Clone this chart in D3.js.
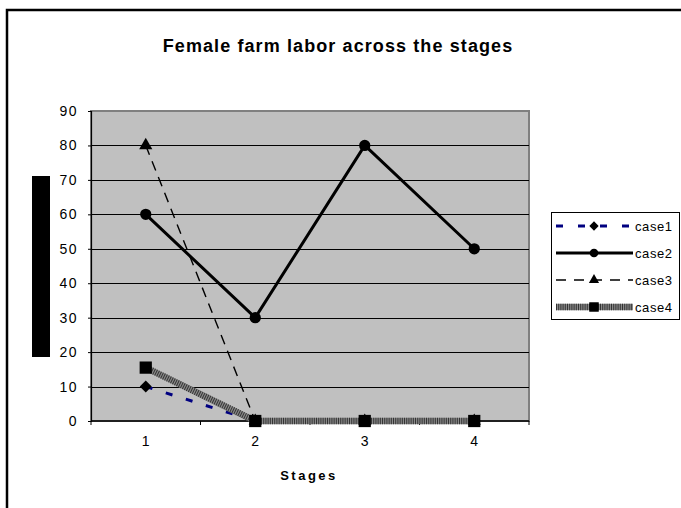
<!DOCTYPE html>
<html>
<head>
<meta charset="utf-8">
<script src="https://cdn.jsdelivr.net/npm/d3@7"></script>
<style>
  body { margin: 0; background: #fff; }
  svg { display: block; font-family: Arial, "Liberation Sans", sans-serif; }
</style>
</head>
<body>
<svg id="chart" width="681" height="508"></svg>
<script>
// data
var stages = [1, 2, 3, 4];
var case1 = [10, 0, 0, 0];
var case2 = [60, 30, 80, 50];
var case3 = [80, 0, 0, 0];
var case4 = [15.5, 0, 0, 0];
var yTicks = [0, 10, 20, 30, 40, 50, 60, 70, 80, 90];
var seriesNames = ['case1', 'case2', 'case3', 'case4'];
var seriesValues = [case1, case2, case3, case4];

// init
var svg = d3.select('#chart');
var plot = {left: 91, right: 529, top: 111, bottom: 421};

// chart border
svg.append('rect')
    .attr('x', 7).attr('y', 10)
    .attr('width', 690).attr('height', 510)
    .attr('fill', '#fff')
    .attr('stroke', '#000')
    .attr('stroke-width', 2.5);

// title
svg.append('text')
    .attr('x', 338).attr('y', 52)
    .attr('text-anchor', 'middle')
    .style('font-size', '18px')
    .style('font-weight', 'bold')
    .style('letter-spacing', '1.1px')
    .text('Female farm labor across the stages');

// scales
var x = d3.scalePoint().domain(stages).range([plot.left, plot.right]).padding(0.5);
var y = d3.scaleLinear().domain([0, 90]).range([plot.bottom, plot.top]);

// plot area
svg.append('rect')
    .attr('x', plot.left).attr('y', plot.top)
    .attr('width', plot.right - plot.left).attr('height', plot.bottom - plot.top)
    .attr('fill', '#c0c0c0')
    .attr('stroke', '#808080')
    .attr('stroke-width', 2);

// gridlines
svg.append('g')
    .selectAll('line')
    .data(yTicks.filter(d => d > 0 && d < 90)).enter()
    .append('line')
        .attr('x1', plot.left).attr('x2', plot.right)
        .attr('y1', d => Math.round(y(d)) + 0.5).attr('y2', d => Math.round(y(d)) + 0.5)
        .attr('stroke', '#000')
        .attr('stroke-width', 1);

// y axis
var yAxis = svg.append('g')
    .attr('transform', 'translate(' + plot.left + ',0)')
    .call(d3.axisLeft(y).tickValues(yTicks).tickSize(3).tickPadding(10));
yAxis.select('.domain').attr('stroke', '#000').attr('stroke-width', 1.2);
yAxis.selectAll('text')
    .style('font-size', '14px')
    .style('letter-spacing', '1.5px')
    .style('font-family', 'Arial, "Liberation Sans", sans-serif');

// x axis, ticks between categories
var step = x.step();
var xBounds = d3.range(stages.length + 1).map(i => plot.left + i * step);
var xAxis = svg.append('g');
xAxis.append('line')
    .attr('x1', plot.left).attr('x2', plot.right)
    .attr('y1', plot.bottom).attr('y2', plot.bottom)
    .attr('stroke', '#000').attr('stroke-width', 1.5);
xAxis.selectAll('line.tick')
    .data(xBounds).enter()
    .append('line')
        .attr('class', 'tick')
        .attr('x1', d => d).attr('x2', d => d)
        .attr('y1', plot.bottom).attr('y2', plot.bottom + 4)
        .attr('stroke', '#000');
xAxis.selectAll('text')
    .data(stages).enter()
    .append('text')
        .attr('x', d => x(d))
        .attr('y', 446)
        .attr('text-anchor', 'middle')
        .style('font-size', '14px')
        .text(d => d);

// x axis title
svg.append('text')
    .attr('x', 309).attr('y', 480)
    .attr('text-anchor', 'middle')
    .style('font-size', '13px')
    .style('font-weight', 'bold')
    .style('letter-spacing', '2.5px')
    .text('Stages');

// y axis title (blacked out box)
svg.append('rect')
    .attr('x', 32).attr('y', 176)
    .attr('width', 18).attr('height', 181)
    .attr('fill', '#000');

// series styles
var styles = {
    case1: {stroke: '#000080', width: 3, dash: '7,14', marker: d3.symbolSquare, rotate: 45, size: 72},
    case2: {stroke: '#000', width: 3, dash: null, marker: d3.symbolCircle, size: 100},
    case3: {stroke: '#000', width: 1.4, dash: '10,7', marker: d3.symbolTriangle, size: 75},
    case4: {stroke: '#8a8a8a', width: 6.5, dash: null, marker: d3.symbolSquare, size: 150, stripe: true}
};

var line = d3.line()
    .x((d, i) => x(stages[i]))
    .y(d => y(d));

var seriesG = svg.append('g');
seriesNames.forEach((name, k) => {
    var st = styles[name];
    var vals = seriesValues[k];
    seriesG.append('path')
        .attr('d', line(vals))
        .attr('fill', 'none')
        .attr('stroke', st.stroke)
        .attr('stroke-width', st.width)
        .attr('stroke-dasharray', st.dash);
    if (st.stripe) {
        seriesG.append('path')
            .attr('d', line(vals))
            .attr('fill', 'none')
            .attr('stroke', '#333')
            .attr('stroke-width', st.width)
            .attr('stroke-dasharray', '1,1.2');
    }
    seriesG.selectAll('path.m' + k)
        .data(vals).enter()
        .append('path')
            .attr('class', 'm' + k)
            .attr('transform', (d, i) => 'translate(' + x(stages[i]) + ',' + y(d) + ')' + (st.rotate ? ' rotate(' + st.rotate + ')' : ''))
            .attr('d', d3.symbol().type(st.marker).size(st.size))
            .attr('fill', '#000');
});

// legend
var legend = svg.append('g');
legend.append('rect')
    .attr('x', 551.5).attr('y', 212.5)
    .attr('width', 128).attr('height', 107)
    .attr('fill', '#fff')
    .attr('stroke', '#000')
    .attr('stroke-width', 1);
seriesNames.forEach((name, k) => {
    var st = styles[name];
    var ly = 226 + k * 27;
    legend.append('line')
        .attr('x1', 556).attr('x2', 633)
        .attr('y1', ly).attr('y2', ly)
        .attr('stroke', st.stroke)
        .attr('stroke-width', st.width)
        .attr('stroke-dasharray', name === 'case1' ? '7,15' : (name === 'case3' ? '10,8' : st.dash));
    if (st.stripe) {
        legend.append('line')
            .attr('x1', 556).attr('x2', 633)
            .attr('y1', ly).attr('y2', ly)
            .attr('stroke', '#333')
            .attr('stroke-width', st.width)
            .attr('stroke-dasharray', '1,1.2');
    }
    legend.append('path')
        .attr('transform', 'translate(594,' + ly + ')' + (st.rotate ? ' rotate(' + st.rotate + ')' : ''))
        .attr('d', d3.symbol().type(st.marker).size(st.size * 0.6))
        .attr('fill', '#000');
    legend.append('text')
        .attr('x', 635).attr('y', ly + 5)
        .style('font-size', '13px')
        .style('letter-spacing', '0.6px')
        .text(name);
});
</script>
</body>
</html>
